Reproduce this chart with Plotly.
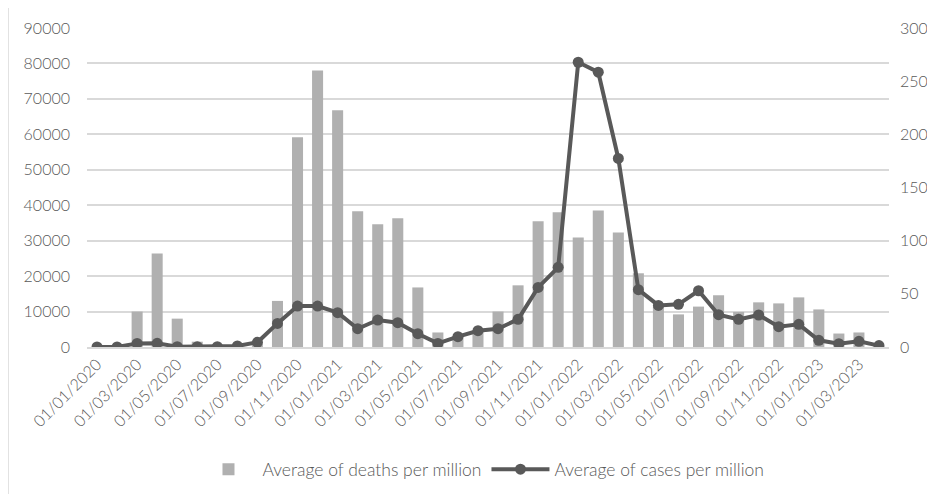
import plotly.graph_objects as go

months = [
    "01/01/2020", "01/02/2020", "01/03/2020", "01/04/2020", "01/05/2020", "01/06/2020",
    "01/07/2020", "01/08/2020", "01/09/2020", "01/10/2020", "01/11/2020", "01/12/2020",
    "01/01/2021", "01/02/2021", "01/03/2021", "01/04/2021", "01/05/2021", "01/06/2021",
    "01/07/2021", "01/08/2021", "01/09/2021", "01/10/2021", "01/11/2021", "01/12/2021",
    "01/01/2022", "01/02/2022", "01/03/2022", "01/04/2022", "01/05/2022", "01/06/2022",
    "01/07/2022", "01/08/2022", "01/09/2022", "01/10/2022", "01/11/2022", "01/12/2022",
    "01/01/2023", "01/02/2023", "01/03/2023", "01/04/2023",
]

deaths_per_million = [
    0, 0, 10000, 26400, 8000, 1500,
    500, 500, 1000, 13000, 59200, 78000,
    66800, 38300, 34600, 36300, 16800, 4100,
    3000, 4500, 10000, 17400, 35500, 38000,
    30900, 38500, 32300, 20800, 11400, 9200,
    11400, 14600, 9900, 12600, 12300, 14000,
    10600, 3800, 4100, 0,
]

cases_per_million = [
    0, 0, 3.4, 3.5, 0.3, 0.3,
    0.3, 1.0, 4.4, 22.2, 38.5, 38.5,
    32.3, 17.2, 25.4, 22.9, 12.5, 3.4,
    9.7, 15.3, 17.2, 26.0, 56.0, 74.9,
    267.8, 258.4, 177.3, 53.9, 39.1, 40.1,
    52.9, 30.4, 26.0, 30.1, 19.1, 21.3,
    6.3, 3.1, 5.3, 1.3,
]

left_ticks = [0, 10000, 20000, 30000, 40000, 50000, 60000, 70000, 80000, 90000]
left_tick_text = [str(v) for v in left_ticks]
right_ticks = [0, 50, 100, 150, 200, 250, 300]
right_tick_text = [str(v) for v in right_ticks]
x_tick_labels = months[::2]

FONT = "Lato"
TXT = "#595959"
GRID = "#d9d9d9"

fig = go.Figure()
fig.add_trace(go.Bar(
    x=months, y=deaths_per_million, name="Average of deaths per million",
    marker=dict(color="#b0b0b0", line=dict(width=0)), yaxis="y",
))
fig.add_trace(go.Scatter(
    x=months, y=cases_per_million, name="Average of cases per million",
    mode="lines+markers", yaxis="y2",
    line=dict(color="#595959", width=4),
    marker=dict(color="#595959", size=11),
))

tf = dict(family=FONT, size=16, color=TXT, weight=300)
lf = dict(family=FONT, size=17.5, color=TXT, weight=300)

# page body has an 8px margin, so the figure is sized to fit inside the window
OFF = 8
fig.update_layout(
    width=935 - OFF, height=494 - OFF,
    margin=dict(l=87 - OFF, r=46, t=28 - OFF, b=147, autoexpand=False),
    paper_bgcolor="white", plot_bgcolor="white",
    font=tf,
    bargap=0.45,
    showlegend=True,
    legend=dict(orientation="h", x=0.4925, xanchor="center", y=-0.327, yanchor="top",
                font=lf, itemwidth=58),
    xaxis=dict(type="category", categoryorder="array", categoryarray=months,
               tickmode="array", tickvals=x_tick_labels, ticktext=x_tick_labels,
               tickangle=-45, showgrid=False, showline=True, linecolor=GRID,
               linewidth=1.5, ticks="", tickfont=tf, automargin=False,
               range=[-0.5, len(months) - 0.5]),
    yaxis=dict(range=[0, 90000], tickmode="array", tickvals=left_ticks,
               ticktext=left_tick_text, automargin=False,
               showgrid=True, gridcolor=GRID, gridwidth=1.5, zeroline=False,
               showline=False, ticks="", ticklabelstandoff=16, tickfont=tf),
    yaxis2=dict(range=[0, 300], tickmode="array", tickvals=right_ticks,
                ticktext=right_tick_text, automargin=False,
                overlaying="y", side="right", showgrid=False, zeroline=False,
                showline=False, ticks="", ticklabelstandoff=10, tickfont=tf),
    shapes=[dict(type="rect", xref="paper", yref="paper",
                 x0=(8 - 87) / 802, x1=(945 - 87) / 802,
                 y0=(347 - 505) / 319, y1=(347 - 5) / 319,
                 line=dict(color=GRID, width=1.5), fillcolor="rgba(0,0,0,0)",
                 layer="below")],
)

fig.write_html("out.html")
